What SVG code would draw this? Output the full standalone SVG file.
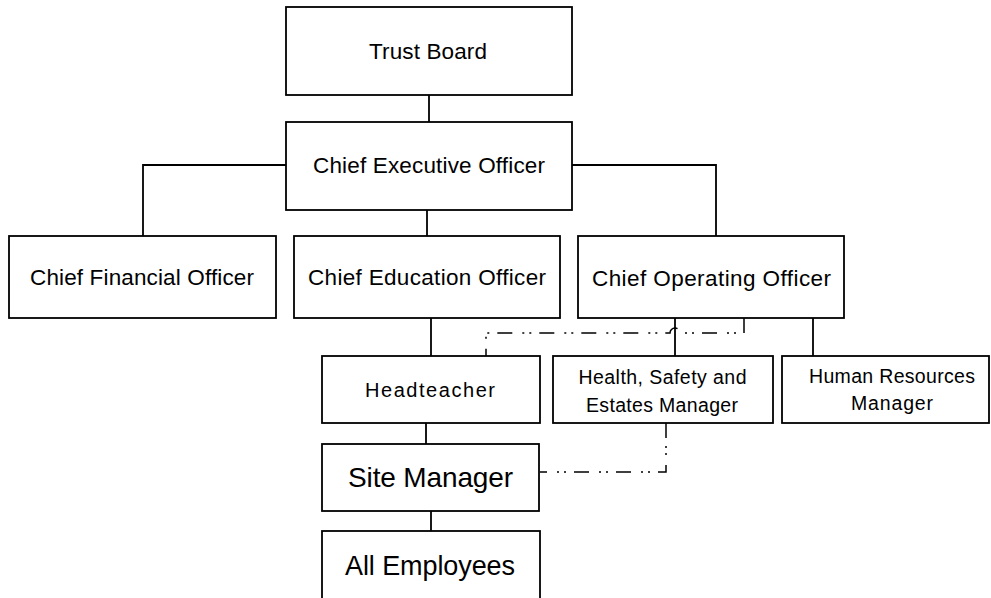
<svg xmlns="http://www.w3.org/2000/svg" width="991" height="598" viewBox="0 0 991 598">
<style>
.box{fill:#fff;stroke:#000;stroke-width:1.8}
.t{font-family:"Liberation Sans",Arial,sans-serif;fill:#000;text-anchor:middle}
.l{font-size:22.5px}
.m{font-size:19.5px}
.ln{fill:none;stroke:#000;stroke-width:1.8}
.dd{fill:none;stroke:#000;stroke-width:1.5;stroke-dasharray:15 8 2 5 2 10}
</style>
<rect width="991" height="598" fill="#fff"/>
<g id="connectors">
<line class="ln" x1="429" y1="95" x2="429" y2="122"/>
<polyline class="ln" points="286,165 143,165 143,236"/>
<line class="ln" x1="427" y1="210" x2="427" y2="236"/>
<polyline class="ln" points="572,165 716,165 716,236"/>
<line class="ln" x1="431" y1="318" x2="431" y2="356"/>
<line class="ln" x1="675" y1="318" x2="675" y2="356"/>
<line class="ln" x1="813" y1="318" x2="813" y2="356"/>
<line class="ln" x1="426" y1="423" x2="426" y2="444"/>
<line class="ln" x1="431" y1="511" x2="431" y2="531"/>
<path class="dd" d="M744,318 V333 H680 A5,5 0 0 0 670,333 H486 V356"/>
<path class="dd" d="M666,423 V472 H540"/>
</g>
<g id="trust-board"><rect class="box" x="286" y="7" width="286" height="88"/><text class="t l" x="428" y="59" textLength="118">Trust Board</text></g>
<g id="ceo"><rect class="box" x="286" y="122" width="286" height="88"/><text class="t l" x="429" y="173" textLength="232">Chief Executive Officer</text></g>
<g id="cfo"><rect class="box" x="9" y="236" width="267" height="82"/><text class="t l" x="142" y="285" textLength="224">Chief Financial Officer</text></g>
<g id="cedo"><rect class="box" x="294" y="236" width="266" height="82"/><text class="t l" x="427" y="285" textLength="238">Chief Education Officer</text></g>
<g id="coo"><rect class="box" x="578" y="236" width="266" height="82"/><text class="t l" x="711.5" y="286" textLength="239">Chief Operating Officer</text></g>
<g id="headteacher"><rect class="box" x="322" y="356" width="218" height="67"/><text class="t" style="font-size:20px" x="430" y="397" textLength="130">Headteacher</text></g>
<g id="hse-manager"><rect class="box" x="553" y="356" width="220" height="67"/><text class="t m" x="662.5" y="384" textLength="168">Health, Safety and</text><text class="t m" x="662" y="412" textLength="152">Estates Manager</text></g>
<g id="hr-manager"><rect class="box" x="782" y="356" width="207" height="67"/><text class="t m" x="892" y="383" textLength="166">Human Resources</text><text class="t m" x="892" y="410" textLength="82">Manager</text></g>
<g id="site-manager"><rect class="box" x="322" y="444" width="217" height="67"/><text class="t" style="font-size:28px" x="430.5" y="487" textLength="165">Site Manager</text></g>
<g id="all-employees"><rect class="box" x="322" y="531" width="218" height="80"/><text class="t" style="font-size:27px" x="430" y="575" textLength="170">All Employees</text></g>
</svg>
